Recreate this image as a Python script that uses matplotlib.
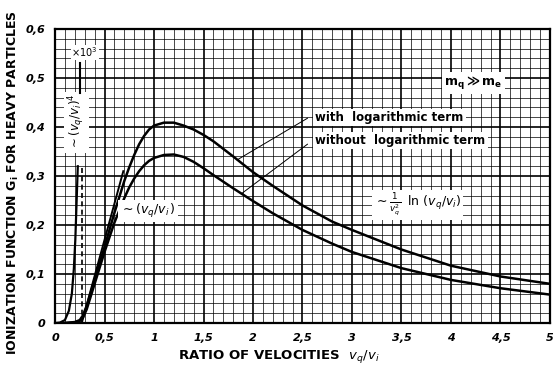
import numpy as np
import matplotlib
matplotlib.use("Agg")
import matplotlib.pyplot as plt

plt.rcParams['mathtext.fontset'] = 'dejavusans'

# ratio of velocities v_q/v_i
x_with = [0.10, 0.20, 0.25, 0.28, 0.32, 0.40, 0.50, 0.60, 0.70, 0.75, 0.80, 0.85, 0.90,
          0.95, 1.00, 1.10, 1.20, 1.30, 1.40, 1.50, 1.60, 1.80, 2.00, 2.20, 2.50, 2.80,
          3.00, 3.50, 4.00, 4.50, 5.00]
g_with = [0.000, 0.002, 0.006, 0.015, 0.035, 0.088, 0.155, 0.225, 0.290, 0.318, 0.343,
          0.365, 0.382, 0.395, 0.403, 0.409, 0.409, 0.403, 0.395, 0.384, 0.371, 0.340,
          0.308, 0.280, 0.240, 0.207, 0.190, 0.150, 0.117, 0.095, 0.080]

x_without = x_with
g_without = [0.000, 0.001, 0.004, 0.010, 0.028, 0.080, 0.145, 0.205, 0.255, 0.277, 0.295,
             0.310, 0.322, 0.331, 0.337, 0.343, 0.344, 0.339, 0.329, 0.316, 0.302, 0.275,
             0.249, 0.224, 0.190, 0.162, 0.145, 0.112, 0.088, 0.071, 0.058]

# linear approximation near threshold ~ (v_q/v_i)
x_lin = [0.27, 0.69]
g_lin = [0.0, 0.31]

# ~ (v_q/v_i)^4, scaled x 10^3
x_pow4 = [0.0, 0.05, 0.10, 0.14, 0.17, 0.19, 0.205, 0.215, 0.225, 0.23]
g_pow4 = [0.0, 0.001, 0.006, 0.025, 0.06, 0.11, 0.17, 0.23, 0.29, 0.32]

x_thresh = 0.27

xticks = [0, 0.5, 1, 1.5, 2, 2.5, 3, 3.5, 4, 4.5, 5]
xlabels = ['0', '0,5', '1', '1,5', '2', '2,5', '3', '3,5', '4', '4,5', '5']
yticks = [0, 0.1, 0.2, 0.3, 0.4, 0.5, 0.6]
ylabels = ['0', '0,1', '0,2', '0,3', '0,4', '0,5', '0,6']

fig = plt.figure(figsize=(5.53, 3.73), dpi=100)
ax = fig.add_axes([0.0995, 0.134, 0.895, 0.788])
ax.set_xlim(0, 5)
ax.set_ylim(0, 0.6)

# graph paper
for xv in np.arange(0, 5.01, 0.1):
    major = abs(xv / 0.5 - round(xv / 0.5)) < 1e-6
    ax.axvline(xv, color='black', lw=1.2 if major else 0.5, zorder=0)
for yv in np.arange(0, 0.601, 0.02):
    major = abs(yv / 0.1 - round(yv / 0.1)) < 1e-6
    ax.axhline(yv, color='black', lw=1.2 if major else 0.5, zorder=0)

ax.plot(x_with, g_with, color='black', lw=1.8, zorder=3)
ax.plot(x_without, g_without, color='black', lw=1.8, zorder=3)
ax.plot(x_lin, g_lin, color='black', lw=1.4, zorder=3)
ax.plot(x_pow4, g_pow4, color='black', lw=1.6, zorder=3)
ax.plot([x_thresh, x_thresh], [0, 0.32], color='black', lw=1.2, ls=(0, (3, 2)), zorder=3)

box = dict(facecolor='white', edgecolor='none', pad=1.5)
ax.text(2.63, 0.42, 'with  logarithmic term', fontsize=8.5, fontweight='bold',
        va='center', ha='left', bbox=box, zorder=4)
ax.text(2.63, 0.372, 'without  logarithmic term', fontsize=8.5, fontweight='bold',
        va='center', ha='left', bbox=box, zorder=4)
ax.plot([2.55, 1.84], [0.418, 0.333], color='black', lw=0.7, zorder=3)
ax.plot([2.55, 1.89], [0.365, 0.265], color='black', lw=0.7, zorder=3)

ax.text(3.93, 0.49, r'$\mathbf{m_q \gg m_e}$', fontsize=9, va='center', ha='left',
        bbox=box, zorder=4)
ax.text(0.66, 0.229, r'$\sim (v_q/v_i\,)$', fontsize=9, va='center', ha='left',
        bbox=box, zorder=4)
ax.text(3.22, 0.241, r'$\sim \frac{1}{v_q^2}\;\;\ln\,(v_q/v_i)$', fontsize=9,
        va='center', ha='left', bbox=box, zorder=4)
ax.text(0.215, 0.41, r'$\sim (v_q/v_i)^4$', fontsize=8.5, rotation=90,
        va='center', ha='center', bbox=box, zorder=4)
ax.text(0.30, 0.553, r'$\times 10^3$', fontsize=7, fontweight='bold',
        va='center', ha='center', bbox=dict(facecolor='white', edgecolor='none', pad=0.5),
        zorder=4)
ax.plot([0.25, 0.25], [0.47, 0.53], color='black', lw=1.5, zorder=5)

ax.set_xticks(xticks)
ax.set_xticklabels(xlabels, fontsize=8, fontweight='bold', fontstyle='italic')
ax.set_yticks(yticks)
ax.set_yticklabels(ylabels, fontsize=8, fontweight='bold', fontstyle='italic')
ax.tick_params(length=0, pad=7)
for s in ax.spines.values():
    s.set_linewidth(1.6)

fig.text(0.505, 0.043, r'RATIO OF VELOCITIES  $\mathbf{\mathit{v_q/v_i}}$', fontsize=9.5,
         fontweight='bold', ha='center', va='center')
fig.text(0.024, 0.51, r'IONIZATION FUNCTION $\mathbf{G_i}$ FOR HEAVY PARTICLES',
         fontsize=9, fontweight='bold', rotation=90, ha='center', va='center')

fig.savefig('out.png', dpi=100)
